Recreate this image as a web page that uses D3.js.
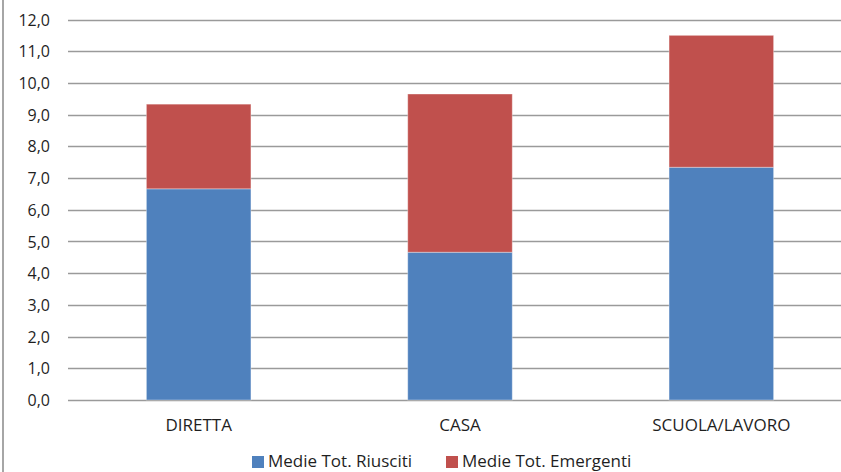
<!DOCTYPE html>
<html>
<head>
<meta charset="utf-8">
<script src="https://cdn.jsdelivr.net/npm/d3@7"></script>
<style>
  html, body { margin: 0; padding: 0; background: #fff; }
  svg { display: block; }
  text { font-family: "Open Sans", "Noto Sans", sans-serif; fill: #1f1f1f; }
</style>
</head>
<body>
<svg id="chart" width="841" height="472"></svg>
<script>
// Stacked averages per setting
const categories = ["DIRETTA", "CASA", "SCUOLA/LAVORO"];
const riusciti   = [6.66, 4.66, 7.34];
const emergenti  = [2.67, 4.99, 4.16];
const seriesNames = ["Medie Tot. Riusciti", "Medie Tot. Emergenti"];
const seriesColors = ["#4F81BD", "#C0504D"];
const yTicks = [0, 1, 2, 3, 4, 5, 6, 7, 8, 9, 10, 11, 12];

const svg = d3.select("#chart");
const W = 841, H = 472;

const rows = categories.map((c, i) => ({ cat: c, riusciti: riusciti[i], emergenti: emergenti[i] }));
const stack = d3.stack().keys(["riusciti", "emergenti"]);
const layers = stack(rows);

const x = d3.scaleBand()
  .domain(categories)
  .range([68, 852])
  .paddingInner(0.6)
  .paddingOuter(0.3);

const y = d3.scaleLinear()
  .domain([0, 12])
  .range([400, 19.5]);

// outer frame edge on the left
svg.append("line")
  .attr("x1", 3).attr("x2", 3)
  .attr("y1", 0).attr("y2", H)
  .attr("stroke", "#a6a6a6")
  .attr("stroke-width", 2);

// horizontal gridlines
svg.append("g")
  .selectAll("line")
  .data(yTicks)
  .join("line")
  .attr("x1", 68).attr("x2", 852)
  .attr("y1", d => Math.round(y(d)) + 0.5)
  .attr("y2", d => Math.round(y(d)) + 0.5)
  .attr("stroke", "#9a9a9a")
  .attr("stroke-width", 1.6);

// y axis labels
const yAxis = d3.axisLeft(y)
  .tickValues(yTicks)
  .tickSize(0)
  .tickPadding(0)
  .tickFormat(d => d3.format(".1f")(d).replace(".", ","));

const gy = svg.append("g")
  .attr("transform", "translate(50,0)")
  .call(yAxis);
gy.select(".domain").remove();
gy.selectAll("text")
  .attr("font-size", 16)
  .attr("dy", "0.35em")
  .style("fill", "#1f1f1f");

// stacked bars
svg.append("g")
  .selectAll("g")
  .data(layers)
  .join("g")
  .attr("fill", (d, i) => seriesColors[i])
  .selectAll("rect")
  .data(d => d)
  .join("rect")
  .attr("x", d => x(d.data.cat))
  .attr("width", x.bandwidth())
  .attr("y", d => y(d[1]))
  .attr("height", d => y(d[0]) - y(d[1]))
  .attr("stroke", "rgba(255,255,255,0.35)")
  .attr("stroke-width", 1);

// category axis
const xAxis = d3.axisBottom(x).tickSize(0).tickPadding(0);
const gx = svg.append("g")
  .attr("transform", "translate(0,400)")
  .call(xAxis);
gx.select(".domain").remove();
gx.selectAll("text")
  .attr("font-size", 17)
  .attr("y", 25)
  .attr("dy", "0.35em")
  .style("fill", "#1f1f1f");

// legend
const legendX = [252, 446];
const legend = svg.append("g");
seriesNames.forEach((name, i) => {
  legend.append("rect")
    .attr("x", legendX[i]).attr("y", 456)
    .attr("width", 12).attr("height", 12)
    .attr("fill", seriesColors[i]);
  legend.append("text")
    .attr("x", legendX[i] + 16).attr("y", 461)
    .attr("dy", "0.35em")
    .attr("font-size", 17)
    .text(name);
});
</script>
</body>
</html>
